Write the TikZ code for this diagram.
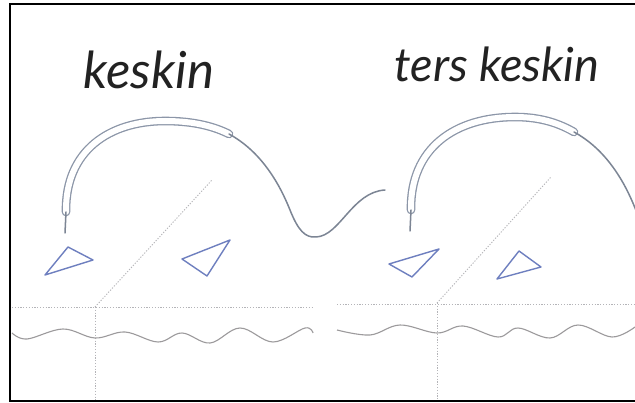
\documentclass[tikz,border=0pt]{standalone}
\usepackage{fontspec}
\setmainfont{Lato}
\definecolor{arcgray}{HTML}{7C8594}
\definecolor{dblgray}{HTML}{8C96A8}
\definecolor{triblue}{HTML}{6E7FBF}
\definecolor{dotgray}{HTML}{B4B4B8}
\definecolor{wavegray}{HTML}{9C9A9C}
\definecolor{inkc}{HTML}{222222}
\begin{document}
\begin{tikzpicture}[x=1pt,y=-1pt,
  frameline/.style={line width=2.6pt,black},
  single/.style={draw=arcgray,line width=1.5pt,line cap=round},
  dblout/.style={draw=dblgray,line width=8.6pt,line cap=round},
  dblin/.style={draw=white,line width=6pt,line cap=round},
  tri/.style={draw=triblue,line width=1.4pt,line join=round},
  guide/.style={draw=dotgray,line width=0.9pt,dash pattern=on 1.2pt off 1.6pt},
  wave/.style={draw=wavegray,line width=1.1pt},
  hand/.style={text=inkc,inner sep=0pt}]
\useasboundingbox (0,0) rectangle (635,403);
\clip (0,0) rectangle (635,403);
\fill[white] (0,0) rectangle (635,403);

% titles
\node[hand,font=\fontsize{51}{51}\selectfont\itshape] (t1) at (149,70) {keskin};
\node[hand,font=\fontsize{47}{47}\selectfont\itshape] (t2) at (497,64) {ters keskin};

% guide lines
\coordinate (lc) at (95,307);
\coordinate (rc) at (437,303);
\draw[guide] (12,307) -- (313,307);
\draw[guide] (337,304) -- (635,304);
\draw[guide] (lc) -- (212,180);
\draw[guide] (rc) -- (551,177);
\draw[guide] (lc) -- (95,401);
\draw[guide] (rc) -- (437,401);

% waves
\draw[wave] plot[smooth,tension=0.6] coordinates {(12,333) (27,339) (63,329) (95,338) (125,332) (158,342) (182,333) (210,343) (240,328) (273,342) (305,328) (313,333)};
\draw[wave] plot[smooth,tension=0.6] coordinates {(337,330) (370,335) (400,325) (437,333) (463,326) (498,337) (518,328) (550,338) (578,325) (612,337) (635,327)};

% left arc
\draw[dblout] (66,212) .. controls (65,150) and (110,121) .. (165,121) .. controls (195,121) and (215,127) .. (229,134);
\draw[dblin] (66,212) .. controls (65,150) and (110,121) .. (165,121) .. controls (195,121) and (215,127) .. (229,134);
\draw[single] (65,233) -- (66,212);
\draw[single] (229,134) .. controls (262,152) and (280,185) .. (290,210) .. controls (298,230) and (305,238) .. (316,237) .. controls (340,236) and (352,192) .. (385,190);

% right arc
\begin{scope}[shift={(345,-2)}]
\draw[dblout] (66,212) .. controls (65,150) and (110,119) .. (170,119) .. controls (197,119) and (215,126) .. (229,134);
\draw[dblin] (66,212) .. controls (65,150) and (110,119) .. (170,119) .. controls (197,119) and (215,126) .. (229,134);
\draw[single] (65,233) -- (66,212);
\draw[single] (229,134) .. controls (262,152) and (280,185) .. (290,210) .. controls (298,230) and (305,238) .. (316,237);
\end{scope}

% triangles
\draw[tri] (45,275) -- (68,247) -- (93,260) -- cycle;
\draw[tri] (182,259) -- (230,240) -- (207,276) -- cycle;
\draw[tri] (389,264) -- (439,249) -- (412,277) -- cycle;
\draw[tri] (497,279) -- (519,251) -- (541,267) -- cycle;

% frame
\draw[frameline] (640,4) -- (10,4) -- (10,401) -- (640,401);
\end{tikzpicture}
\end{document}
